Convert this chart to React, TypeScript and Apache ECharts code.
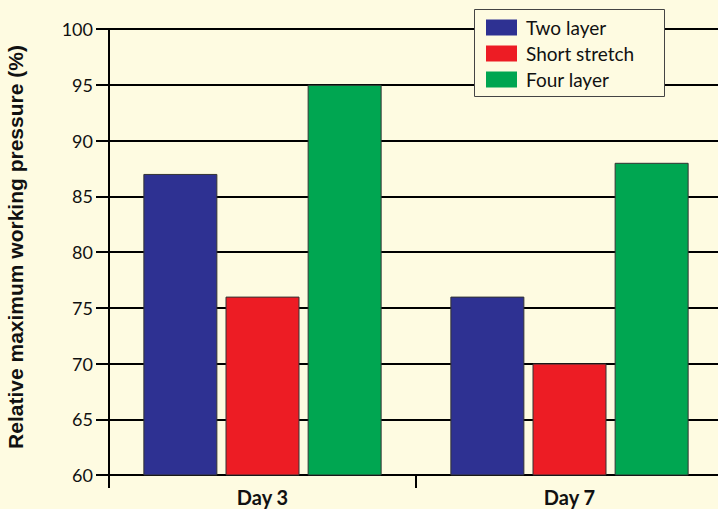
import React, { useEffect, useRef } from "react";
import * as echarts from "echarts";

const categories = ["Day 3", "Day 7"];
const seriesNames = ["Two layer", "Short stretch", "Four layer"];
const twoLayer = [87, 76];
const shortStretch = [76, 70];
const fourLayer = [95, 88];
const colors = ["#2e3192", "#ed1c24", "#00a651"];
const BG = "#fefbe1";

export default function App() {
  const ref = useRef<HTMLDivElement>(null);
  useEffect(() => {
    if (!ref.current) return;
    const chart = echarts.init(ref.current, null, { renderer: "svg" });
    const values = [twoLayer, shortStretch, fourLayer];
    chart.setOption({
      animation: false,
      backgroundColor: BG,
      grid: {
        left: 109,
        top: 29,
        width: 614,
        height: 446,
        containLabel: false,
        outerBoundsMode: "none",
      },
      legend: {
        orient: "vertical",
        left: 486,
        top: 18,
        padding: 0,
        itemWidth: 31,
        itemHeight: 16,
        itemGap: 7,
        icon: "rect",
        z: 6,
        itemStyle: { borderWidth: 0 },
        textStyle: { fontFamily: "Lato", fontSize: 19, color: "#111", padding: [0, 0, 0, 4] },
        data: seriesNames,
      },
      graphic: [
        {
          type: "rect",
          z: 5,
          shape: { x: 474.5, y: 9.5, width: 190, height: 87 },
          style: { fill: BG, stroke: "#444", lineWidth: 1 },
        },
      ],
      xAxis: {
        type: "category",
        data: categories,
        boundaryGap: true,
        axisLine: { lineStyle: { color: "#000", width: 2 } },
        axisTick: { show: true, length: 13, lineStyle: { color: "#000", width: 2 } },
        axisLabel: {
          margin: 12,
          fontFamily: "Lato",
          fontWeight: "bold",
          fontSize: 20,
          color: "#111",
        },
        splitLine: { show: false },
      },
      yAxis: {
        type: "value",
        min: 60,
        max: 100,
        interval: 5,
        name: "Relative maximum working pressure (%)",
        nameLocation: "middle",
        nameGap: 83,
        nameTextStyle: {
          fontFamily: "Liberation Sans",
          fontWeight: "bold",
          fontSize: 21,
          color: "#111",
          padding: [0, 0, 0, 10],
        },
        axisLine: { show: true, lineStyle: { color: "#000", width: 2 } },
        axisTick: { show: true, length: 13, lineStyle: { color: "#000", width: 2 } },
        axisLabel: {
          margin: 16,
          fontFamily: "Lato",
          fontSize: 18,
          color: "#111",
          verticalAlign: "middle",
          padding: [0, 0, 10, 0],
        },
        splitLine: { show: true, lineStyle: { color: "#000", width: 2 } },
      },
      series: seriesNames.map((name, i) => ({
        name,
        type: "bar",
        data: values[i],
        barWidth: 74,
        barGap: "11%",
        itemStyle: { color: colors[i], borderColor: "#333", borderWidth: 1 },
      })),
    });
    return () => chart.dispose();
  }, []);
  return (
    <div
      ref={ref}
      style={{ position: "fixed", left: 0, top: 0, width: 718, height: 509 }}
    />
  );
}
